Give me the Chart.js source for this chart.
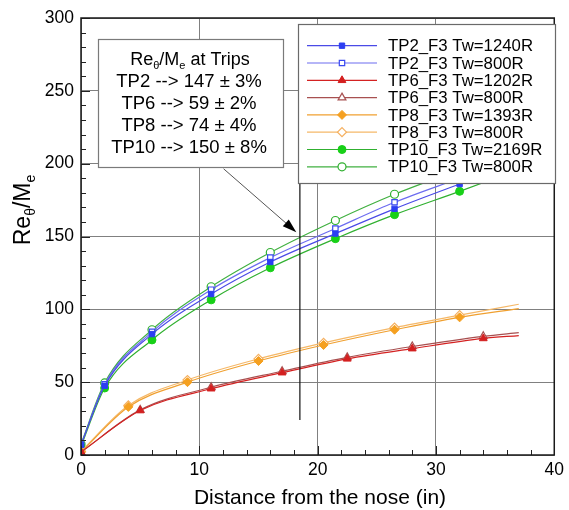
<!DOCTYPE html>
<html lang="en">
<head>
<meta charset="UTF-8">
<title>Re/Me vs distance</title>
<script src="https://cdn.jsdelivr.net/npm/chart.js@4/dist/chart.umd.min.js"></script>
<style>
*{margin:0;padding:0;box-sizing:border-box}
body{background:#fff;width:569px;height:510px;overflow:hidden}
#wrap{position:relative;width:569px;height:510px}
</style>
</head>
<body>
<div id="wrap"><canvas id="c" width="569" height="510"></canvas></div>
<script>
// stations along the body (in)
var xTP2 = [0, 2, 6, 11, 16, 21.5, 26.5, 32, 37];
var xTP6 = [0, 5, 11, 17, 22.5, 28, 34, 37];
var xTP8 = [0, 4, 9, 15, 20.5, 26.5, 32, 37];
var xTP10 = [0, 2, 6, 11, 16, 21.5, 26.5, 32, 37];

// Re_theta/Me
var tp2Hot  = [7, 47.5, 83, 110.5, 132.5, 152, 169, 186, 201];
var tp2Cold = [7, 48.5, 84.5, 113.5, 135.5, 155.5, 173.5, 190, 205];
var tp6Hot  = [2, 30.5, 45.5, 56.5, 66, 73, 80, 82];
var tp6Cold = [2, 31, 46.5, 57.5, 67, 74.5, 81.5, 84];
var tp8Hot  = [2, 33, 50, 64.5, 75.5, 86, 94.5, 100.5];
var tp8Cold = [2.5, 34, 51.5, 66, 77, 87.5, 96, 103.5];
var tp10Hot  = [6, 46, 79, 106.5, 128.5, 148.5, 165, 181, 196];
var tp10Cold = [7.5, 49.5, 86, 115.5, 139, 161, 179, 196, 212];

var seriesNames = ["TP2_F3 Tw=1240R","TP2_F3 Tw=800R","TP6_F3 Tw=1202R","TP6_F3 Tw=800R",
  "TP8_F3 Tw=1393R","TP8_F3 Tw=800R","TP10_F3 Tw=2169R","TP10_F3 Tw=800R"];

var tripNotes = ["TP2 --> 147 \u00b1 3%","TP6 --> 59 \u00b1 2%","TP8 --> 74 \u00b1 4%","TP10 --> 150 \u00b1 8%"];

var xTicks = [0, 10, 20, 30, 40];
var yTicks = [0, 50, 100, 150, 200, 250, 300];

var FONT = "'Liberation Sans', Arial, sans-serif";

function pts(xs, ys){ return xs.map(function(x,i){ return {x:x, y:ys[i]}; }); }
// markers on every station but the curve end
function radii(n, r){ var a=[]; for(var i=0;i<n;i++) a.push(i===n-1?0:r); return a; }

function ds(label, xs, ys, line, mark, style, filled, r){
  return {
    label: label, data: pts(xs, ys), showLine: true,
    borderColor: line, borderWidth: 1.2,
    cubicInterpolationMode: "monotone",
    pointStyle: style, pointRadius: radii(xs.length, r),
    pointBackgroundColor: filled ? mark : "#ffffff",
    pointBorderColor: mark, pointBorderWidth: filled ? 1 : 1.2,
    pointHoverRadius: 0, markColor: mark, filled: filled, markR: r
  };
}

var datasets = [
  ds(seriesNames[0], xTP2, tp2Hot, "#4a4ae6", "#2c3ef2", "rect", true, 3.8),
  ds(seriesNames[1], xTP2, tp2Cold, "#6c6cf0", "#3a4af0", "rect", false, 3.8),
  ds(seriesNames[2], xTP6, tp6Hot, "#d42222", "#d42020", "triangle", true, 4.5),
  ds(seriesNames[3], xTP6, tp6Cold, "#a85050", "#a85050", "triangle", false, 4.5),
  ds(seriesNames[4], xTP8, tp8Hot, "#f0a030", "#f5a020", "rectRot", true, 4.5),
  ds(seriesNames[5], xTP8, tp8Cold, "#f5b868", "#f5b060", "rectRot", false, 4.5),
  ds(seriesNames[6], xTP10, tp10Hot, "#30b030", "#18d018", "circle", true, 4),
  ds(seriesNames[7], xTP10, tp10Cold, "#40b040", "#30b030", "circle", false, 4)
];

function subText(ctx, parts, x, y, size){
  // parts: [text, isSub]
  var w = 0;
  parts.forEach(function(p){ ctx.font = (p[1]?Math.round(size*0.62):size)+"px "+FONT; w += ctx.measureText(p[0]).width; });
  var cx = x - w/2;
  parts.forEach(function(p){
    ctx.font = (p[1]?Math.round(size*0.62):size)+"px "+FONT;
    ctx.textAlign = "left"; ctx.textBaseline = "middle";
    ctx.fillText(p[0], cx, p[1] ? y + size*0.32 : y);
    cx += ctx.measureText(p[0]).width;
  });
}

var decor = {
  id: "decor",
  afterDraw: function(chart){
    var ctx = chart.ctx, a = chart.chartArea, xs = chart.scales.x, ys = chart.scales.y;
    ctx.save();
    // inward ticks, minor every 2 in / 10 units
    ctx.strokeStyle = "#222"; ctx.lineWidth = 1;
    ctx.beginPath();
    for (var v = 0; v <= 40; v += 2) {
      var px = Math.round(xs.getPixelForValue(v)) + 0.5, len = v % 10 === 0 ? 9 : 5;
      ctx.moveTo(px, a.bottom); ctx.lineTo(px, a.bottom - len);
    }
    for (var u = 0; u <= 300; u += 10) {
      var py = Math.round(ys.getPixelForValue(u)) + 0.5, l2 = u % 50 === 0 ? 9 : 5;
      ctx.moveTo(a.left, py); ctx.lineTo(a.left + l2, py);
    }
    ctx.stroke();
    // frame
    ctx.strokeStyle = "#1a1a1a"; ctx.lineWidth = 1.5;
    ctx.strokeRect(a.left, a.top, a.right - a.left, a.bottom - a.top);

    // trip marker line and arrow
    ctx.strokeStyle = "#111"; ctx.lineWidth = 1.2;
    var vx = xs.getPixelForValue(18.5);
    ctx.beginPath(); ctx.moveTo(vx, ys.getPixelForValue(24)); ctx.lineTo(vx, ys.getPixelForValue(200)); ctx.stroke();
    var x0 = xs.getPixelForValue(12.05), y0 = ys.getPixelForValue(196.5);
    var x1 = xs.getPixelForValue(18.2), y1 = ys.getPixelForValue(153);
    var ang = Math.atan2(y1 - y0, x1 - x0);
    ctx.strokeStyle = "#555"; ctx.lineWidth = 1;
    ctx.beginPath(); ctx.moveTo(x0, y0); ctx.lineTo(x1 - 10*Math.cos(ang), y1 - 10*Math.sin(ang)); ctx.stroke();
    ctx.fillStyle = "#000";
    ctx.beginPath();
    ctx.moveTo(x1, y1);
    ctx.lineTo(x1 - 14*Math.cos(ang) + 4.5*Math.sin(ang), y1 - 14*Math.sin(ang) - 4.5*Math.cos(ang));
    ctx.lineTo(x1 - 14*Math.cos(ang) - 4.5*Math.sin(ang), y1 - 14*Math.sin(ang) + 4.5*Math.cos(ang));
    ctx.closePath(); ctx.fill();

    // note box
    ctx.fillStyle = "#fff"; ctx.fillRect(98, 39, 185, 128);
    ctx.strokeStyle = "#7a7a7a"; ctx.lineWidth = 1.2; ctx.strokeRect(98.5, 39.5, 185, 128);
    ctx.fillStyle = "#000";
    subText(ctx, [["Re",0],["\u03b8",1],["/M",0],["e",1],[" at Trips",0]], 190, 60, 18);
    ctx.font = "18.5px " + FONT; ctx.textAlign = "center"; ctx.textBaseline = "middle";
    tripNotes.forEach(function(t, i){ ctx.fillText(t, 189, 82 + i*22); });

    // legend
    ctx.fillStyle = "#fff"; ctx.fillRect(298, 24, 257, 159);
    ctx.strokeStyle = "#6a6a6a"; ctx.lineWidth = 1.2; ctx.strokeRect(298.5, 24.5, 257, 159);
    chart.data.datasets.forEach(function(d, i){
      var y = 45.7 + i*17.3;
      ctx.strokeStyle = d.borderColor; ctx.lineWidth = 1.2;
      ctx.beginPath(); ctx.moveTo(307, y); ctx.lineTo(377, y); ctx.stroke();
      ctx.fillStyle = d.filled ? d.markColor : "#fff";
      ctx.strokeStyle = d.markColor; ctx.lineWidth = d.filled ? 1 : 1.2;
      Chart.helpers.drawPoint(ctx, {pointStyle: d.pointStyle, radius: d.markR, borderWidth: ctx.lineWidth}, 342, y);
      ctx.fillStyle = "#000"; ctx.font = "16.8px " + FONT; ctx.textAlign = "left"; ctx.textBaseline = "middle";
      ctx.fillText(d.label, 388, y + 1);
    });

    // axis titles
    ctx.fillStyle = "#000";
    ctx.font = "21px " + FONT; ctx.textAlign = "center"; ctx.textBaseline = "middle";
    ctx.fillText("Distance from the nose (in)", 320, 498);
    ctx.translate(24, 210); ctx.rotate(-Math.PI/2);
    subText(ctx, [["Re",0],["\u03b8",1],["/M",0],["e",1]], 0, 0, 23);
    ctx.restore();
  }
};

new Chart(document.getElementById("c"), {
  type: "scatter",
  data: { datasets: datasets },
  options: {
    responsive: false, animation: false, events: [],
    layout: { padding: { top: 18, right: 11, left: 0, bottom: 0 } },
    plugins: { legend: { display: false }, tooltip: { enabled: false } },
    scales: {
      x: {
        type: "linear", min: 0, max: 40,
        afterBuildTicks: function(s){ s.ticks = xTicks.map(function(v){ return {value: v}; }); },
        afterFit: function(s){ s.height = 55; },
        grid: { color: "#808080", lineWidth: 1, drawTicks: false },
        border: { display: false },
        ticks: { color: "#000", padding: 5, font: { family: FONT, size: 17.5 }, maxRotation: 0 }
      },
      y: {
        type: "linear", min: 0, max: 300,
        afterBuildTicks: function(s){ s.ticks = yTicks.map(function(v){ return {value: v}; }); },
        afterFit: function(s){ s.width = 81; },
        grid: { color: "#808080", lineWidth: 1, drawTicks: false },
        border: { display: false },
        ticks: { color: "#000", padding: 7, font: { family: FONT, size: 17.5 } }
      }
    }
  },
  plugins: [decor]
});
</script>
</body>
</html>
